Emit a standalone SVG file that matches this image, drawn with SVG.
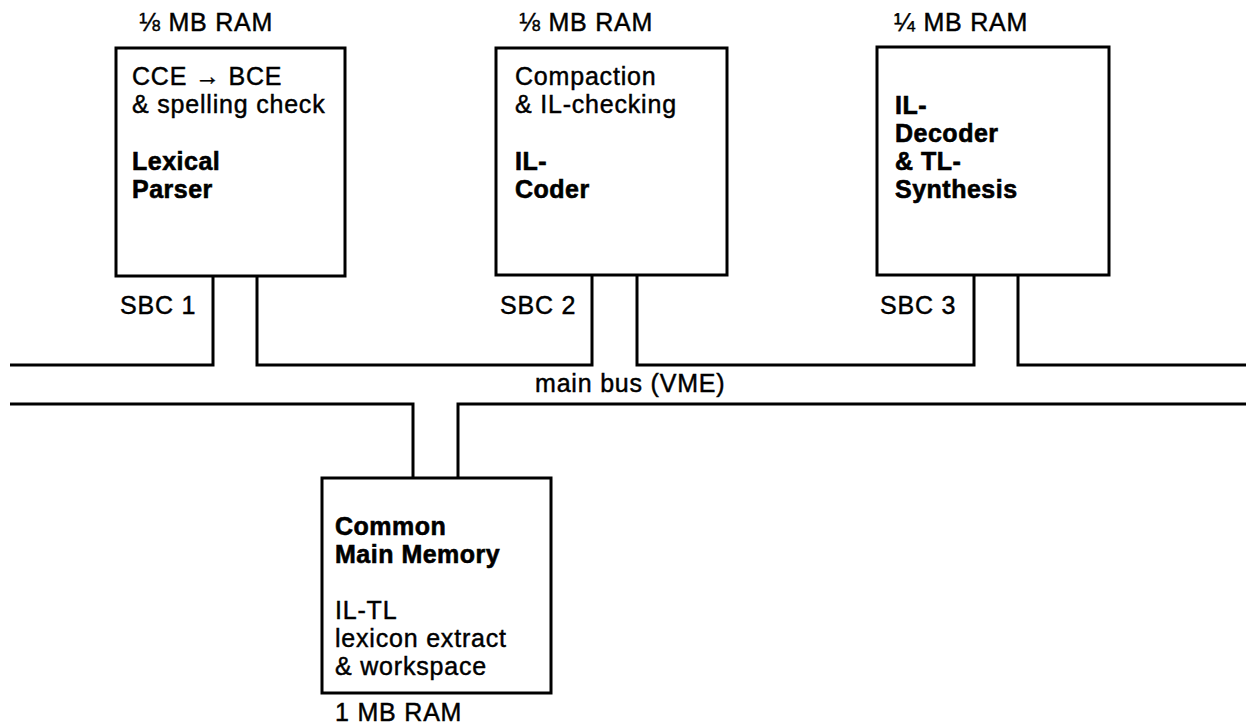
<svg xmlns="http://www.w3.org/2000/svg" width="1246" height="727" viewBox="0 0 1246 727">
<style>
.box{fill:#fff;stroke:#000;stroke-width:3}
.bus{fill:none;stroke:#000;stroke-width:3;stroke-linejoin:miter}
text{font-family:"Liberation Sans",Arial,sans-serif;font-size:25px;letter-spacing:0.8px;fill:#000;stroke:#000;stroke-width:0.45}
.b{font-weight:bold;letter-spacing:0.5px;stroke-width:0.6}
</style>
<rect width="1246" height="727" fill="#fff"/>
<g id="connectors">
<path class="bus" d="M10,365 H213 V276 M257,276 V365 H592 V275 M637,275 V365 H974 V275 M1018,275 V365 H1246"/>
<path class="bus" d="M10,404 H413 V478 M458,478 V404 H1246"/>
<text x="535" y="392">main bus (VME)</text>
</g>
<g id="sbc1">
<rect class="box" x="116" y="48" width="229" height="228"/>
<text x="139" y="31">⅛ MB RAM</text>
<text x="132" y="85">CCE → BCE</text>
<text x="132" y="113">&amp; spelling check</text>
<text class="b" x="132" y="170">Lexical</text>
<text class="b" x="132" y="198">Parser</text>
<text x="120" y="314">SBC 1</text>
</g>
<g id="sbc2">
<rect class="box" x="496" y="48" width="231" height="227"/>
<text x="519" y="31">⅛ MB RAM</text>
<text x="515" y="85">Compaction</text>
<text x="515" y="113">&amp; IL-checking</text>
<text class="b" x="515" y="170">IL-</text>
<text class="b" x="515" y="198">Coder</text>
<text x="500" y="314">SBC 2</text>
</g>
<g id="sbc3">
<rect class="box" x="877" y="47" width="232" height="228"/>
<text x="894" y="31">¼ MB RAM</text>
<text class="b" x="895" y="114">IL-</text>
<text class="b" x="895" y="142">Decoder</text>
<text class="b" x="895" y="170">&amp; TL-</text>
<text class="b" x="895" y="198">Synthesis</text>
<text x="880" y="314">SBC 3</text>
</g>
<g id="memory">
<rect class="box" x="322" y="478" width="229" height="215"/>
<text class="b" x="335" y="535">Common</text>
<text class="b" x="335" y="563">Main Memory</text>
<text x="335" y="619">IL-TL</text>
<text x="335" y="647">lexicon extract</text>
<text x="335" y="675">&amp; workspace</text>
<text x="335" y="721">1 MB RAM</text>
</g>
</svg>
